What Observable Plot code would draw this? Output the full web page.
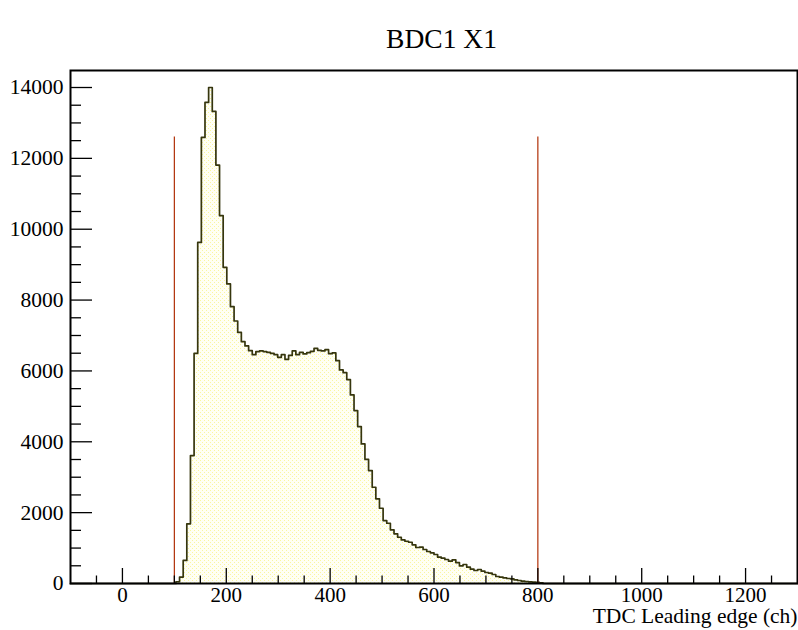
<!DOCTYPE html>
<html><head><meta charset="utf-8">
<script src="https://cdn.jsdelivr.net/npm/d3@7"></script>
<script src="https://cdn.jsdelivr.net/npm/@observablehq/plot@0.6"></script>
<style>body{margin:0;background:#fff} svg{display:block} #chart svg, #chart svg text{font-family:"Liberation Serif","Tinos","DejaVu Serif",serif !important}</style>
</head><body><div id="chart"></div>
<script>
const title = "BDC1 X1";
const xLabel = "TDC Leading edge (ch)";
const binStart = -100;
const binWidth = 7;
const counts = [
  0,0,0,0,0,0,0,0,0,0, 0,0,0,0,0,0,0,0,0,0, 0,0,0,0,0,0,0,0,0,
  50,180,650,1685,3611,6497,9628,12590,13578,14000,
  13324,11811,10381,8923,8455,7814,7410,7089,6827,6705,
  6573,6460,6545,6564,6545,6525,6497,6460,6384,6460,
  6328,6441,6564,6460,6525,6480,6516,6553,6638,6581,
  6564,6601,6488,6507,6290,6028,5952,5755,5323,4880,
  4429,3941,3506,3188,2717,2389,2124,1777,1701,1514,
  1402,1306,1233,1193,1165,1092,1016,1024,959,903,
  866,818,742,714,677,629,668,592,499,536,
  460,403,367,395,347,310,291,254,197,178,
  161,141,133,104,85,65,56,48,40,30,15,
  0,0,0,0,0,0,0,0,0,0, 0,0,0,0,0,0,0,0,0,0,
  0,0,0,0,0,0,0,0,0,0, 0,0,0,0,0,0,0,0,0,0,
  0,0,0,0,0,0,0,0,0,0, 0,0,0,0,0,0,0,0,0,0,
  0,0,0,0,0,0,0,0,0,0
];
const cutLines = [100, 800];
const cutHeight = 12600;
const xDomain = [-100, 1300];
const yDomain = [0, 14480];
const xTicks = [0, 200, 400, 600, 800, 1000, 1200];
const xMinor = [-50, 50, 100, 150, 250, 300, 350, 450, 500, 550, 650, 700, 750, 850, 900, 950, 1050, 1100, 1150, 1250];
const yTicks = [0, 2000, 4000, 6000, 8000, 10000, 12000, 14000];
const yMinor = [500, 1000, 1500, 2500, 3000, 3500, 4500, 5000, 5500, 6500, 7000, 7500, 8500, 9000, 9500, 10500, 11000, 11500, 12500, 13000, 13500];

const steps = counts.map((c, i) => ({x: binStart + i * binWidth, y: c}));
steps.push({x: binStart + counts.length * binWidth, y: counts[counts.length - 1]});

const W = 798, H = 630, mL = 70, mR = 1, mT = 70, mB = 47;
const fw = W - mL - mR, fh = H - mT - mB;
const font = '"Liberation Serif", "Tinos", "DejaVu Serif", serif';

const svg = Plot.plot({
  width: W, height: H,
  marginLeft: mL, marginRight: mR, marginTop: mT, marginBottom: mB,
  style: {fontFamily: font, background: "white", overflow: "visible", color: "black"},
  x: {domain: xDomain},
  y: {domain: yDomain},
  marks: [
    Plot.areaY(steps, {x: "x", y: "y", curve: "step-after", fill: "url(#rootfill)"}),
    Plot.lineY(steps, {x: "x", y: "y", curve: "step-after", stroke: "#36360e", strokeWidth: 1.7}),
    Plot.ruleX(cutLines, {y1: 0, y2: cutHeight, stroke: "#b03008", strokeWidth: 1.2}),
    Plot.tickX(xTicks, {insetTop: fh - 15, stroke: "black", strokeWidth: 1.3}),
    Plot.tickX(xMinor, {insetTop: fh - 7.5, stroke: "black", strokeWidth: 1.3}),
    Plot.tickY(yTicks, {insetRight: fw - 22, stroke: "black", strokeWidth: 1.3}),
    Plot.tickY(yMinor, {insetRight: fw - 11, stroke: "black", strokeWidth: 1.3}),
    Plot.axisX({ticks: xTicks, tickSize: 0, tickPadding: 4, fontSize: 21, label: null, tickFormat: d => String(d)}),
    Plot.axisY({ticks: yTicks, tickSize: 0, tickPadding: 7, fontSize: 21.5, label: null, tickFormat: d => String(d)}),
    Plot.frame({stroke: "black", strokeWidth: 2}),
    Plot.text([title], {frameAnchor: "top", dy: -42, dx: 7.5, fontSize: 27.5, fill: "black"}),
    Plot.text([xLabel], {frameAnchor: "bottom-right", dy: 39.5, textAnchor: "end", fontSize: 21.5, fill: "black"})
  ]
});

svg.setAttribute("font-family", font);
svg.style.fontFamily = font;
const ns = "http://www.w3.org/2000/svg";
const defs = document.createElementNS(ns, "defs");
defs.innerHTML = '<pattern id="rootfill" width="4" height="4" patternUnits="userSpaceOnUse">' +
  '<rect width="4" height="4" fill="#fffff4"/>' +
  '<rect x="0" y="0" width="1" height="1" fill="#faf6a0"/>' +
  '<rect x="2" y="2" width="1" height="1" fill="#faf6a0"/></pattern>';
svg.insertBefore(defs, svg.firstChild);
document.getElementById("chart").appendChild(svg);
</script>
</body></html>
